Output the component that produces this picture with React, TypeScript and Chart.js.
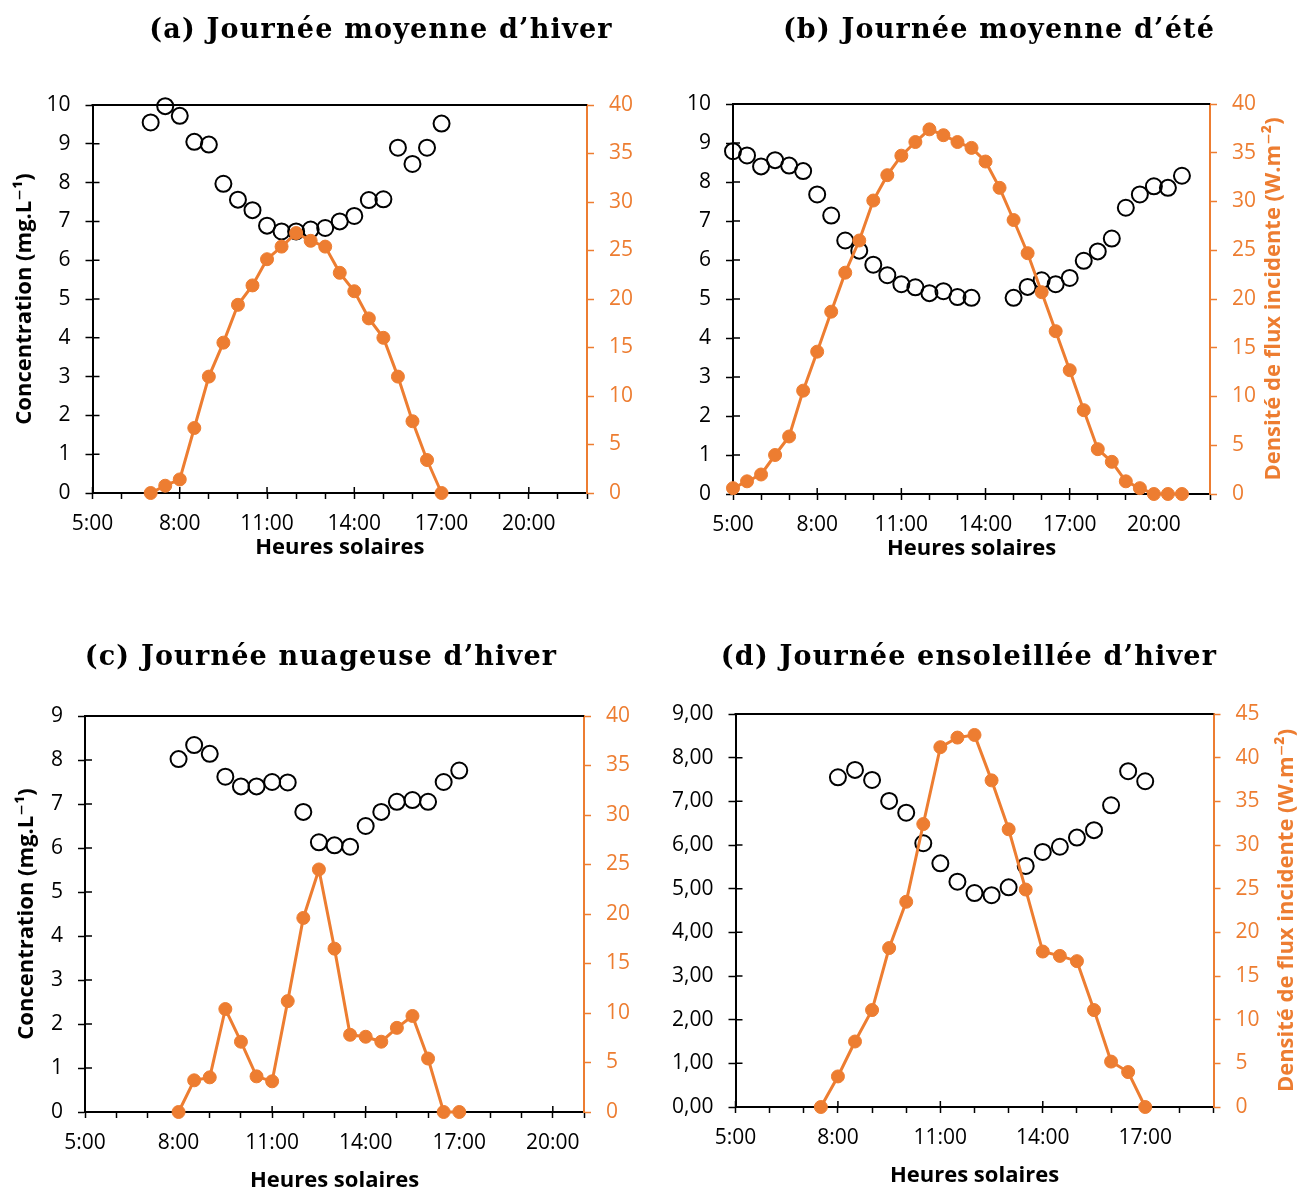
import React, { useEffect, useRef } from "react";
import { Chart, registerables } from "chart.js";

Chart.register(...registerables);

const ORANGE = "#ED7D31";
const INK = "#000000";
const SANS = "'Open Sans', 'DejaVu Sans', sans-serif";
const TICK_SIZE = 21;
const AXIS_TITLE_SIZE = 22;

// ---------- (a) Journée moyenne d'hiver ----------
const timesA = ["7:00", "7:30", "8:00", "8:30", "9:00", "9:30", "10:00", "10:30", "11:00", "11:30", "12:00", "12:30", "13:00", "13:30", "14:00", "14:30", "15:00", "15:30", "16:00", "16:30", "17:00"];
const concA = [9.55, 9.97, 9.72, 9.05, 8.98, 7.97, 7.56, 7.29, 6.89, 6.74, 6.74, 6.79, 6.83, 7.0, 7.14, 7.55, 7.57, 8.9, 8.48, 8.9, 9.52];
const fluxA = [0, 0.75, 1.4, 6.7, 12.0, 15.5, 19.4, 21.4, 24.1, 25.4, 26.8, 26.0, 25.4, 22.7, 20.8, 18.0, 16.0, 12.0, 7.4, 3.4, 0];

// ---------- (b) Journée moyenne d'été ----------
const timesB = ["5:00", "5:30", "6:00", "6:30", "7:00", "7:30", "8:00", "8:30", "9:00", "9:30", "10:00", "10:30", "11:00", "11:30", "12:00", "12:30", "13:00", "13:30", "14:00", "14:30", "15:00", "15:30", "16:00", "16:30", "17:00", "17:30", "18:00", "18:30", "19:00", "19:30", "20:00", "20:30", "21:00"];
const concB = [8.79, 8.68, 8.40, 8.56, 8.42, 8.28, 7.68, 7.14, 6.50, 6.24, 5.88, 5.61, 5.38, 5.30, 5.15, 5.20, 5.05, 5.03, null, null, 5.03, 5.31, 5.48, 5.38, 5.54, 5.98, 6.22, 6.55, 7.34, 7.68, 7.89, 7.85, 8.16];
const fluxB = [0.6, 1.3, 2.0, 4.0, 5.9, 10.6, 14.6, 18.7, 22.7, 26.0, 30.1, 32.7, 34.7, 36.1, 37.4, 36.8, 36.1, 35.5, 34.1, 31.4, 28.1, 24.7, 20.7, 16.7, 12.7, 8.6, 4.6, 3.3, 1.3, 0.6, 0, 0, 0];

// ---------- (c) Journée nuageuse d'hiver ----------
const timesC = ["8:00", "8:30", "9:00", "9:30", "10:00", "10:30", "11:00", "11:30", "12:00", "12:30", "13:00", "13:30", "14:00", "14:30", "15:00", "15:30", "16:00", "16:30", "17:00"];
const concC = [8.02, 8.34, 8.14, 7.62, 7.40, 7.40, 7.50, 7.49, 6.82, 6.13, 6.06, 6.03, 6.50, 6.82, 7.05, 7.09, 7.05, 7.50, 7.76];
const fluxC = [0, 3.2, 3.5, 10.4, 7.1, 3.6, 3.1, 11.2, 19.6, 24.5, 16.5, 7.8, 7.6, 7.1, 8.5, 9.7, 5.4, 0, 0];

// ---------- (d) Journée ensoleillée d'hiver ----------
const timesD = ["7:30", "8:00", "8:30", "9:00", "9:30", "10:00", "10:30", "11:00", "11:30", "12:00", "12:30", "13:00", "13:30", "14:00", "14:30", "15:00", "15:30", "16:00", "16:30", "17:00"];
const concD = [null, 7.55, 7.72, 7.49, 7.01, 6.74, 6.04, 5.58, 5.16, 4.90, 4.85, 5.03, 5.52, 5.84, 5.96, 6.17, 6.34, 6.91, 7.69, 7.46];
const fluxD = [0, 3.5, 7.5, 11.1, 18.2, 23.5, 32.4, 41.2, 42.3, 42.6, 37.4, 31.8, 24.9, 17.8, 17.3, 16.7, 11.1, 5.2, 4.0, 0];

const LEFT_TITLE = "Concentration (mg.L\u207B\u00B9)";
const RIGHT_TITLE = "Densité de flux incidente (W.m\u207B\u00B2)";
const X_TITLE = "Heures solaires";

type PanelCfg = {
  title: string;
  titleX: number;
  titleY: number;
  box: { left: number; top: number; w: number; h: number };
  area: { L: number; R: number; T: number; B: number };
  times: string[];
  conc: (number | null)[];
  flux: number[];
  xMin: number;
  xMax: number;
  yMax: number;
  rMax: number;
  commaFmt: boolean;
  leftTitleX: number | null;
  rightTitleX: number | null;
  xTitleY: number;
};

const panels: PanelCfg[] = [
  {
    title: "(a) Journée moyenne d\u2019hiver", titleX: 381, titleY: 28,
    box: { left: 0, top: 0, w: 649, h: 590 },
    area: { L: 92.5, R: 587, T: 105, B: 493 },
    times: timesA, conc: concA, flux: fluxA,
    xMin: 5, xMax: 22, yMax: 10, rMax: 40, commaFmt: false,
    leftTitleX: 25, rightTitleX: null, xTitleY: 548,
  },
  {
    title: "(b) Journée moyenne d\u2019été", titleX: 999, titleY: 28,
    box: { left: 649, top: 0, w: 649, h: 590 },
    area: { L: 733, R: 1210, T: 104, B: 494 },
    times: timesB, conc: concB, flux: fluxB,
    xMin: 5, xMax: 22, yMax: 10, rMax: 40, commaFmt: false,
    leftTitleX: null, rightTitleX: 1274, xTitleY: 549,
  },
  {
    title: "(c) Journée nuageuse d\u2019hiver", titleX: 321, titleY: 655,
    box: { left: 0, top: 590, w: 649, h: 604 },
    area: { L: 85, R: 584, T: 716, B: 1112 },
    times: timesC, conc: concC, flux: fluxC,
    xMin: 5, xMax: 21, yMax: 9, rMax: 40, commaFmt: false,
    leftTitleX: 27, rightTitleX: null, xTitleY: 1181,
  },
  {
    title: "(d) Journée ensoleillée d\u2019hiver", titleX: 969, titleY: 655,
    box: { left: 649, top: 590, w: 649, h: 604 },
    area: { L: 735.5, R: 1213.5, T: 714, B: 1107 },
    times: timesD, conc: concD, flux: fluxD,
    xMin: 5, xMax: 19, yMax: 9, rMax: 45, commaFmt: true,
    leftTitleX: null, rightTitleX: 1287, xTitleY: 1176,
  },
];

function toHours(t: string): number {
  const [h, m] = t.split(":").map(Number);
  return h + m / 60;
}

const decorPlugin = {
  id: "decor",
  beforeDatasetsDraw(chart: any) {
    const { ctx, chartArea: a, scales } = chart;
    const xs = scales.x;
    const ys = scales.y;
    ctx.save();
    ctx.strokeStyle = INK;
    ctx.lineWidth = 2;
    ctx.beginPath();
    ctx.moveTo(a.left - 1, a.top);
    ctx.lineTo(a.right, a.top);
    ctx.stroke();
    ctx.lineWidth = 1.5;
    ctx.beginPath();
    xs.ticks.forEach((t: any) => {
      if ((t.value - 5) % 3 === 0) {
        const px = xs.getPixelForValue(t.value);
        ctx.moveTo(px, a.bottom);
        ctx.lineTo(px, a.bottom - 6);
      }
    });
    ys.ticks.forEach((t: any) => {
      const py = ys.getPixelForValue(t.value);
      ctx.moveTo(a.left, py);
      ctx.lineTo(a.left + 7, py);
    });
    ctx.stroke();
    ctx.restore();
  },
  afterDraw(chart: any) {
    const o = chart.options.plugins.decor;
    if (!o || o.rightTitleX == null) return;
    const { ctx, chartArea: a } = chart;
    ctx.save();
    ctx.translate(o.rightTitleX, (a.top + a.bottom) / 2);
    ctx.rotate(-Math.PI / 2);
    ctx.font = `bold ${AXIS_TITLE_SIZE}px ${SANS}`;
    ctx.fillStyle = ORANGE;
    ctx.textAlign = "center";
    ctx.textBaseline = "middle";
    ctx.fillText(RIGHT_TITLE, 0, 0);
    ctx.restore();
  },
};

function Panel({ cfg }: { cfg: PanelCfg }) {
  const ref = useRef<HTMLCanvasElement | null>(null);
  useEffect(() => {
    if (!ref.current) return;
    const { box, area } = cfg;
    const xs = cfg.times.map(toHours);
    const fluxPts = cfg.flux.map((v, i) => ({ x: xs[i], y: v }));
    const concPts = cfg.conc.map((v, i) => ({ x: xs[i], y: v }));
    const leftW = area.L - box.left;
    const rightW = box.left + box.w - area.R;
    const bottomH = box.top + box.h - area.B;
    const half = AXIS_TITLE_SIZE / 2;
    const xTitlePadBottom = box.top + box.h - cfg.xTitleY - half;
    const leftTitlePad = cfg.leftTitleX == null ? 0 : cfg.leftTitleX - box.left - half;

    const chart = new Chart(ref.current, {
      type: "line",
      data: {
        datasets: [
          {
            label: "Densité de flux",
            data: fluxPts,
            yAxisID: "y1",
            borderColor: ORANGE,
            backgroundColor: ORANGE,
            borderWidth: 3,
            pointRadius: 6.5,
            pointBorderWidth: 1,
            pointBackgroundColor: ORANGE,
            pointBorderColor: ORANGE,
            tension: 0,
            clip: false,
          } as any,
          {
            label: "Concentration",
            data: concPts,
            yAxisID: "y",
            showLine: false,
            borderColor: INK,
            pointRadius: 8,
            pointBorderWidth: 2,
            pointBorderColor: INK,
            pointBackgroundColor: "rgba(0,0,0,0)",
            clip: false,
          } as any,
        ],
      },
      options: {
        responsive: false,
        animation: false,
        devicePixelRatio: 1,
        layout: { padding: { top: area.T - box.top, left: 0, right: 0, bottom: 0 } },
        plugins: {
          legend: { display: false },
          tooltip: { enabled: false },
          title: { display: false },
          decor: { rightTitleX: cfg.rightTitleX == null ? null : cfg.rightTitleX - box.left },
        } as any,
        scales: {
          x: {
            type: "linear",
            position: "bottom",
            min: cfg.xMin,
            max: cfg.xMax,
            afterBuildTicks: (s: any) => {
              const t: any[] = [];
              for (let h = cfg.xMin; h <= cfg.xMax; h++) t.push({ value: h });
              s.ticks = t;
            },
            afterFit: (s: any) => {
              s.height = bottomH;
            },
            ticks: {
              autoSkip: false,
              maxRotation: 0,
              padding: 12,
              color: INK,
              font: { family: SANS, size: TICK_SIZE },
              callback: (v: any) => ((Number(v) - 5) % 3 === 0 ? `${v}:00` : ""),
            },
            grid: { drawOnChartArea: false, drawTicks: true, tickLength: 6, tickColor: INK, tickWidth: 1.5, color: INK },
            border: { display: true, color: INK, width: 2 },
            title: {
              display: true,
              text: X_TITLE,
              color: INK,
              font: { family: SANS, size: AXIS_TITLE_SIZE, weight: "bold", lineHeight: 1 },
              padding: { top: 0, bottom: xTitlePadBottom },
            },
          },
          y: {
            type: "linear",
            position: "left",
            min: 0,
            max: cfg.yMax,
            afterFit: (s: any) => {
              s.width = leftW;
            },
            ticks: {
              stepSize: 1,
              padding: 15,
              color: INK,
              font: { family: SANS, size: TICK_SIZE },
              callback: (v: any) => (cfg.commaFmt ? Number(v).toFixed(2).replace(".", ",") : `${v}`),
            },
            grid: { drawOnChartArea: false, drawTicks: true, tickLength: 7, tickColor: INK, tickWidth: 1.5, color: INK },
            border: { display: true, color: INK, width: 2 },
            title: {
              display: cfg.leftTitleX != null,
              text: LEFT_TITLE,
              color: INK,
              font: { family: SANS, size: AXIS_TITLE_SIZE, weight: "bold", lineHeight: 1 },
              padding: { top: leftTitlePad, bottom: 0 },
            },
          },
          y1: {
            type: "linear",
            position: "right",
            min: 0,
            max: cfg.rMax,
            afterFit: (s: any) => {
              s.width = rightW;
            },
            ticks: {
              stepSize: 5,
              padding: 15,
              color: ORANGE,
              font: { family: SANS, size: TICK_SIZE },
            },
            grid: { drawOnChartArea: false, drawTicks: true, tickLength: 7, tickColor: ORANGE, tickWidth: 1.5, color: ORANGE },
            border: { display: true, color: ORANGE, width: 2 },
          },
        },
      } as any,
      plugins: [decorPlugin as any],
    });
    return () => chart.destroy();
  }, [cfg]);

  return (
    <canvas
      ref={ref}
      width={cfg.box.w}
      height={cfg.box.h}
      style={{ position: "absolute", left: cfg.box.left, top: cfg.box.top, width: cfg.box.w, height: cfg.box.h }}
    />
  );
}

export default function App() {
  return (
    <div style={{ position: "absolute", left: 0, top: 0, width: 1298, height: 1194, background: "#fff", overflow: "hidden" }}>
      {panels.map((p, i) => (
        <Panel key={i} cfg={p} />
      ))}
      {panels.map((p, i) => (
        <div
          key={"t" + i}
          style={{
            position: "absolute",
            left: p.titleX,
            top: p.titleY,
            transform: "translate(-50%, -50%)",
            whiteSpace: "nowrap",
            fontFamily: "'DejaVu Serif', serif",
            fontWeight: "bold",
            fontSize: 27,
            letterSpacing: 1.2,
            color: "#000",
          }}
        >
          {p.title}
        </div>
      ))}
    </div>
  );
}
